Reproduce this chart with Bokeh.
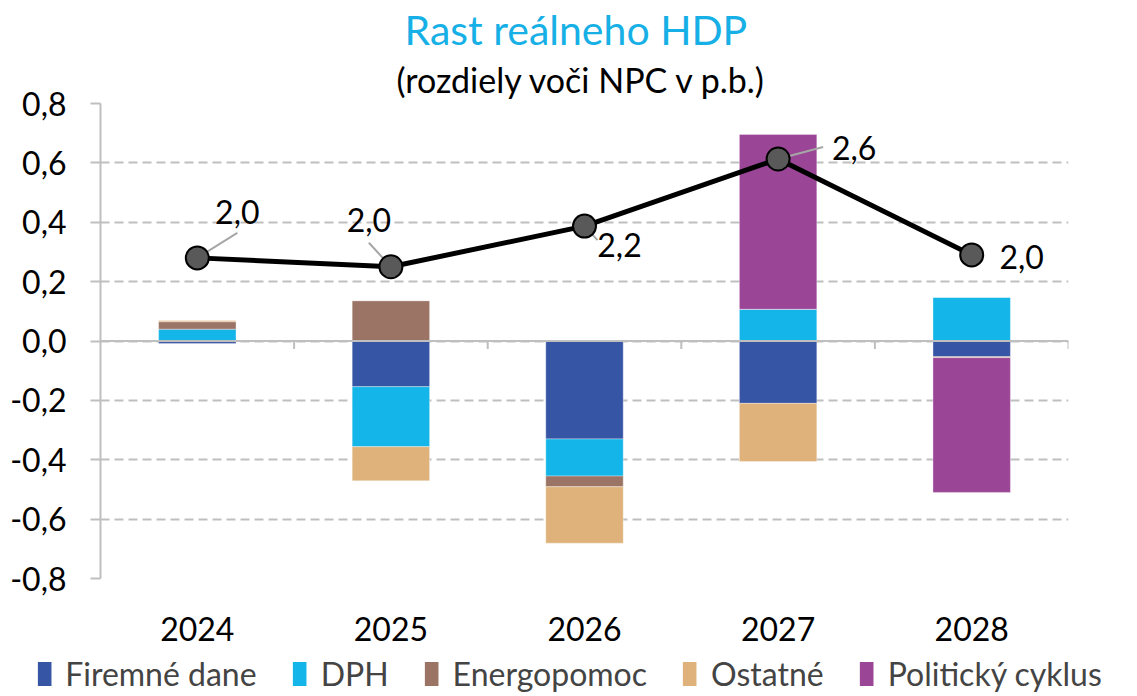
import numpy as np
from bokeh.plotting import figure
from bokeh.models import Range1d, FixedTicker, Legend, LegendItem, Title, Span
from bokeh.core.properties import value
from bokeh.embed import file_html
from bokeh.resources import INLINE

# ---------------- data ----------------
years = ["2024", "2025", "2026", "2027", "2028"]
firemne_dane = [-0.008, -0.154, -0.330, -0.210, -0.053]
dph = [0.040, -0.202, -0.125, 0.107, 0.147]
energopomoc = [0.025, 0.136, -0.036, 0.0, 0.0]
ostatne = [0.005, -0.115, -0.190, -0.196, -0.003]
politicky_cyklus = [0.0, 0.0, 0.0, 0.589, -0.454]
rast_hdp = [0.280, 0.250, 0.387, 0.613, 0.290]
rast_labels = ["2,0", "2,0", "2,2", "2,6", "2,0"]
series_names = ["Firemné dane", "DPH", "Energopomoc", "Ostatné", "Politický cyklus"]
y_ticks = [-0.8, -0.6, -0.4, -0.2, 0.0, 0.2, 0.4, 0.6, 0.8]
y_tick_labels = ["-0,8", "-0,6", "-0,4", "-0,2", "0,0", "0,2", "0,4", "0,6", "0,8"]
title_text = "Rast reálneho HDP"
subtitle_text = "(rozdiely voči NPC v p.b.)"

# ---------------- styles / layout ----------------
colors = ["#3755A5", "#14B5E8", "#9B7466", "#DEB27A", "#9A4596"]
FONT = "Lato"
FRAME_W, FRAME_H = 968, 475
Y_MIN, Y_MAX = -0.8, 0.8
N = len(years)
# label offsets in screen pixels (dx right, dy up) relative to the point
label_dx = [40, -22, 35, 76, 50]
label_dy = [46, 47, -19, 11, -2]
leader_dx = [40, -22, 13, 45, 0]
leader_dy = [25, 24, -14, 12, 0]

px_x = N / FRAME_W
px_y = (Y_MAX - Y_MIN) / FRAME_H

p = figure(width=1137, height=650, output_backend="svg", toolbar_location=None,
           x_range=Range1d(0, N), y_range=Range1d(Y_MIN, Y_MAX),
           min_border_left=100, min_border_right=69, min_border_top=103, min_border_bottom=72)
p.outline_line_color = None
p.background_fill_color = "white"
p.border_fill_color = "white"

# titles
p.add_layout(Title(text=subtitle_text, text_font=FONT, text_font_size="34px",
                   text_font_style="normal", text_color="black", align="left",
                   offset=296, standoff=7), "above")
p.add_layout(Title(text=title_text, text_font=FONT, text_font_size="41px",
                   text_font_style="normal", text_color="#17B0E6", align="left",
                   offset=304, standoff=0), "above")

# grid
p.xgrid.grid_line_color = None
p.ygrid.ticker = FixedTicker(ticks=y_ticks)
p.ygrid.grid_line_color = "#BFBFBF"
p.ygrid.grid_line_width = 2
p.ygrid.grid_line_dash = "9 5"

# y axis
p.yaxis.ticker = FixedTicker(ticks=y_ticks)
p.yaxis.major_label_overrides = {t: l for t, l in zip(y_ticks, y_tick_labels)}
p.yaxis.axis_line_color = "#BFBFBF"
p.yaxis.axis_line_width = 2
p.yaxis.major_tick_line_color = "#BFBFBF"
p.yaxis.major_tick_line_width = 2
p.yaxis.major_tick_out = 10
p.yaxis.major_tick_in = 0
p.yaxis.minor_tick_line_color = None
p.yaxis.major_label_standoff = 24
p.yaxis.major_label_text_font = FONT
p.yaxis.major_label_text_font_size = "32px"
p.yaxis.major_label_text_color = "black"

# x axis
centers = [i + 0.5 for i in range(N)]
p.xaxis.ticker = FixedTicker(ticks=centers)
p.xaxis.major_label_overrides = {c: y for c, y in zip(centers, years)}
p.xaxis.axis_line_color = None
p.xaxis.major_tick_line_color = None
p.xaxis.minor_tick_line_color = None
p.xaxis.major_label_standoff = 32
p.xaxis.major_label_text_font = FONT
p.xaxis.major_label_text_font_size = "32px"
p.xaxis.major_label_text_color = "black"

# stacked bars
series = [firemne_dane, dph, energopomoc, ostatne, politicky_cyklus]
pos_base = np.zeros(N)
neg_base = np.zeros(N)
for name, vals, col in zip(series_names, series, colors):
    v = np.array(vals, dtype=float)
    pos = np.clip(v, 0, None)
    neg = np.clip(v, None, 0)
    top = np.where(v >= 0, pos_base + pos, neg_base)
    bottom = np.where(v >= 0, pos_base, neg_base + neg)
    p.vbar(x=centers, width=0.4, top=top, bottom=bottom, fill_color=col,
           line_color="white", line_alpha=0.35, line_width=1)
    pos_base = pos_base + pos
    neg_base = neg_base + neg

# zero line with category-boundary ticks
p.add_layout(Span(location=0, dimension="width", line_color="#BFBFBF", line_width=2))
bounds = [i + 1 for i in range(N)]
p.segment(x0=bounds, y0=[0] * N, x1=bounds, y1=[-8 * px_y] * N,
          line_color="#BFBFBF", line_width=2)

# leader lines
lx = [c + d * px_x for c, d in zip(centers, leader_dx)]
ly = [v + d * px_y for v, d in zip(rast_hdp, leader_dy)]
p.segment(x0=centers, y0=rast_hdp, x1=lx, y1=ly, line_color="#A6A6A6", line_width=2)

# line + markers
p.line(centers, rast_hdp, line_color="black", line_width=5)
p.scatter(centers, rast_hdp, size=23, fill_color="#595959", line_color="black", line_width=2)

# value labels
tx = [c + d * px_x for c, d in zip(centers, label_dx)]
ty = [v + d * px_y for v, d in zip(rast_hdp, label_dy)]
p.text(x=tx, y=ty, text=rast_labels, text_font=value(FONT), text_font_size="32px",
       text_align="center", text_baseline="middle", text_color="black")

# ---------------- legend strip (separate root so it may span the full width) ----------------
lg = figure(width=1137, height=46, output_backend="svg", toolbar_location=None,
            x_axis_location=None, y_axis_location=None,
            x_range=Range1d(0, 1), y_range=Range1d(0, 1),
            min_border_left=0, min_border_right=0, min_border_top=0, min_border_bottom=0)
lg.outline_line_color = None
lg.xgrid.grid_line_color = None
lg.ygrid.grid_line_color = None
items = []
for name, col in zip(series_names, colors):
    r = lg.vbar(x=[-5], top=[-5], bottom=[-6], width=0.1, fill_color=col, line_color=None)
    items.append(LegendItem(label=name, renderers=[r]))
legend = Legend(items=items, orientation="horizontal", location="center",
                label_text_font=FONT, label_text_font_size="32px",
                glyph_width=17, glyph_height=30, label_standoff=13, spacing=34,
                padding=0, margin=0, border_line_color=None, background_fill_alpha=0)
lg.add_layout(legend, "center")

open("out.html", "w").write(file_html([p, lg], INLINE))
